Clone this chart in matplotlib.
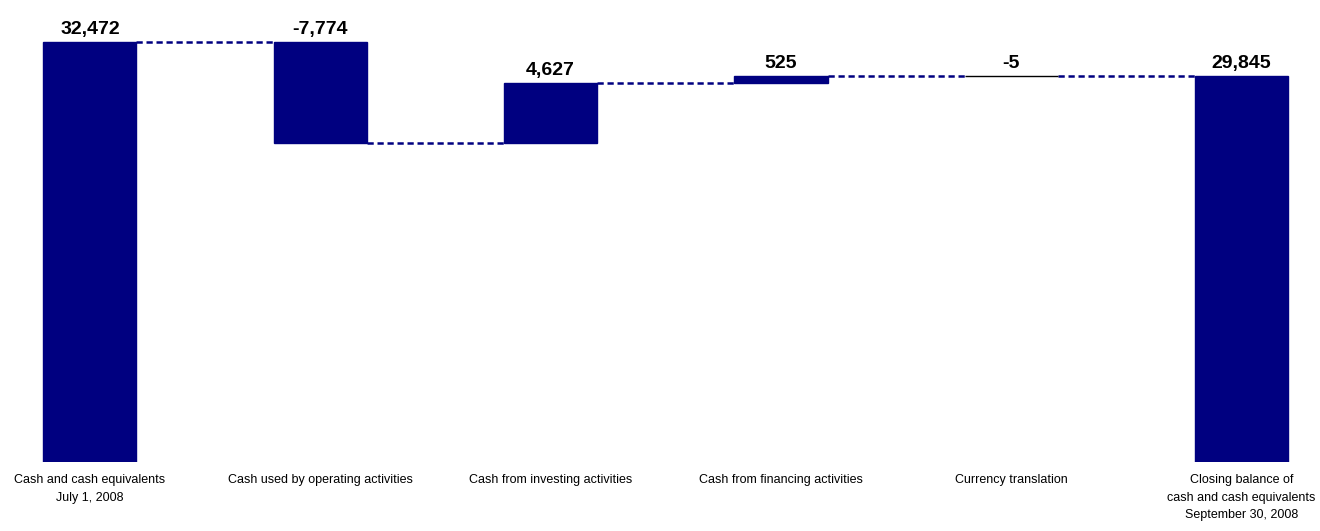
"""
Cash flow bridge for the quarter: opening balance, movements, closing balance.
"""

import numpy as np
import matplotlib.pyplot as plt

categories = [
    "Cash and cash equivalents\nJuly 1, 2008",
    "Cash used by operating activities",
    "Cash from investing activities",
    "Cash from financing activities",
    "Currency translation",
    "Closing balance of\ncash and cash equivalents\nSeptember 30, 2008",
]
values = [32472, -7774, 4627, 525, -5, 29845]
labels = ["32,472", "-7,774", "4,627", "525", "-5", "29,845"]
is_total = [True, False, False, False, False, True]

NAVY = "#000080"

plt.rcParams["font.family"] = ["Liberation Sans", "DejaVu Sans"]


def main():
    # bar bottoms / tops from the running total
    bottoms, tops, levels = [], [], []
    run = 0
    for v, tot in zip(values, is_total):
        if tot:
            lo, hi = 0, v
            run = v
        else:
            lo, hi = sorted((run, run + v))
            run += v
        bottoms.append(lo)
        tops.append(hi)
        levels.append(run)

    x = np.arange(len(values))
    width = 0.405

    fig = plt.figure(figsize=(13.2, 5.31), dpi=100)
    ax = fig.add_axes([0, 0.13, 1, 0.87])

    edges = ["black" if abs(v) < 50 else NAVY for v in values]
    ax.bar(x, np.array(tops) - np.array(bottoms), bottom=bottoms, width=width,
           color=NAVY, edgecolor=edges, linewidth=1.0, zorder=3)

    # dashed connectors between neighbouring bars
    for i in range(len(values) - 1):
        ax.plot([x[i] + width / 2, x[i + 1] - width / 2], [levels[i], levels[i]],
                color=NAVY, linestyle=(0, (2.5, 1.5)), linewidth=1.8, zorder=2)

    for xi, top, lab in zip(x, tops, labels):
        ax.annotate(lab, (xi, top), xytext=(0, 3), textcoords="offset points",
                    ha="center", va="bottom", fontsize=14, fontweight="bold")

    ax.set_xlim(-0.39, 5.34)
    ax.set_ylim(0, values[0] * 462 / 420)
    ax.set_xticks(x)
    ax.set_xticklabels(categories, fontsize=9, linespacing=1.6)
    ax.tick_params(axis="x", length=0, pad=9)
    ax.set_yticks([])
    for s in ax.spines.values():
        s.set_visible(False)

    fig.savefig("out.png", dpi=100)
    plt.close(fig)


if __name__ == "__main__":
    main()
